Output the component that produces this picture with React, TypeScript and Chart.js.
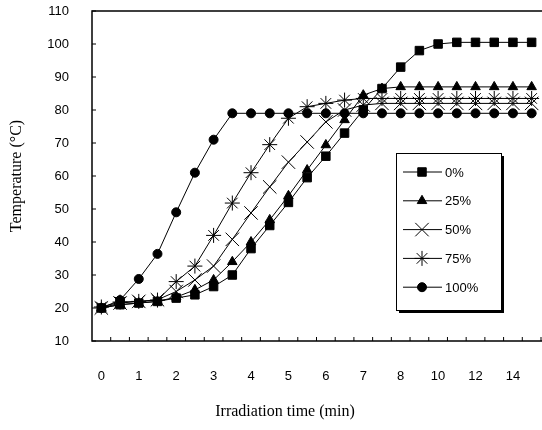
import React, { useEffect, useRef } from "react";
import { Chart, registerables } from "chart.js";
import { drawPoint } from "chart.js/helpers";

Chart.register(...registerables);

const times = [0, 0.5, 1, 1.5, 2, 2.5, 3, 3.5, 4, 4.5, 5, 5.5, 6, 6.5, 7, 7.5, 8, 9, 10, 11, 12, 13, 14, 15];

const seriesLabels = ["0%", "25%", "50%", "75%", "100%"];

const temp0 = [20, 21, 21.5, 22, 23, 24, 26.5, 30, 38, 45, 52, 59.5, 66, 73, 80, 86.5, 93, 98, 100, 100.5, 100.5, 100.5, 100.5, 100.5];
const temp25 = [20, 21, 21.5, 22, 23.3, 25.5, 28.5, 34, 40, 46.7, 54, 61.8, 69.4, 77, 84.5, 86.5, 87, 87, 87, 87, 87, 87, 87, 87];
const temp50 = [20, 21.5, 22, 22.5, 25, 28.5, 32.7, 40.8, 48.8, 56.7, 64.2, 70.3, 76.4, 80, 81.5, 82, 82, 82, 82, 82, 82, 82, 82, 82];
const temp75 = [20.3, 21.8, 22, 22.4, 28, 32.7, 42, 51.8, 61, 69.5, 77.5, 81, 82, 83, 83.5, 83.5, 83.5, 83.5, 83.5, 83.5, 83.5, 83.5, 83.5, 83.5];
const temp100 = [20, 22.4, 28.8, 36.4, 49, 61, 71, 79, 79, 79, 79, 79, 79, 79, 79, 79, 79, 79, 79, 79, 79, 79, 79, 79];

const yTicks = [10, 20, 30, 40, 50, 60, 70, 80, 90, 100, 110];

const xTitle = "Irradiation time (min)";
const yTitle = "Temperature (°C)";

const pointStyles = ["rect", "triangle", "crossRot", "star", "circle"];
const pointRadii = [6, 5.5, 9.5, 7.5, 4.5];

const tickFont = { family: "'Liberation Sans', Arial, sans-serif", size: 13 };

export default function App() {
  const canvasRef = useRef<HTMLCanvasElement | null>(null);

  useEffect(() => {
    document.body.style.margin = "0";
    const canvas = canvasRef.current;
    if (!canvas) return;

    const allSeries = [temp0, temp25, temp50, temp75, temp100];

    const framePlugin = {
      id: "frame",
      afterDraw(chart: any) {
        const { ctx, chartArea } = chart;
        const { left, top, bottom } = chartArea;
        const W = chart.width;
        const xs = chart.scales.x;
        const ys = chart.scales.y;
        ctx.save();
        ctx.strokeStyle = "#000";
        ctx.lineWidth = 1.5;
        ctx.beginPath();
        ctx.moveTo(W, top);
        ctx.lineTo(left, top);
        ctx.lineTo(left, bottom);
        ctx.lineTo(W, bottom);
        ctx.stroke();
        ctx.lineWidth = 1;
        ctx.beginPath();
        for (const v of yTicks) {
          const py = ys.getPixelForValue(v);
          ctx.moveTo(left, py);
          ctx.lineTo(left + 4, py);
        }
        const w = xs.getPixelForValue(1) - xs.getPixelForValue(0);
        for (let k = 1; k <= times.length; k++) {
          const px = xs.getPixelForValue(k) - w / 2;
          if (px > W) break;
          ctx.moveTo(px, bottom);
          ctx.lineTo(px, bottom - 4);
        }
        ctx.stroke();

        ctx.fillStyle = "#000";
        ctx.font = "16px 'Liberation Serif', 'Times New Roman', serif";
        ctx.textAlign = "center";
        ctx.textBaseline = "middle";
        ctx.fillText(xTitle, 285, 412);
        ctx.save();
        ctx.translate(17, (top + bottom) / 2);
        ctx.rotate(-Math.PI / 2);
        ctx.fillText(yTitle, 0, 0);
        ctx.restore();

        const bx = 396, by = 153, bw = 105, bh = 157;
        ctx.fillStyle = "#000";
        ctx.fillRect(bx + 3, by + 3, bw, bh);
        ctx.fillStyle = "#fff";
        ctx.fillRect(bx, by, bw, bh);
        ctx.strokeStyle = "#000";
        ctx.lineWidth = 1;
        ctx.strokeRect(bx + 0.5, by + 0.5, bw, bh);
        chart.data.datasets.forEach((ds: any, i: number) => {
          const ly = by + 19 + i * 28.8;
          ctx.beginPath();
          ctx.moveTo(bx + 7, ly);
          ctx.lineTo(bx + 46, ly);
          ctx.strokeStyle = "#000";
          ctx.lineWidth = 1;
          ctx.stroke();
          ctx.fillStyle = "#000";
          drawPoint(ctx, { pointStyle: ds.pointStyle, radius: ds.pointRadius, rotation: 0, borderWidth: 1 } as any, bx + 26, ly);
          ctx.fillStyle = "#000";
          ctx.font = "13px 'Liberation Sans', Arial, sans-serif";
          ctx.textAlign = "left";
          ctx.textBaseline = "middle";
          ctx.fillText(ds.label, bx + 49, ly + 1);
        });
        ctx.restore();
      },
    };

    const chart = new Chart(canvas, {
      type: "line",
      data: {
        labels: times.map(String),
        datasets: allSeries.map((vals, i) => ({
          label: seriesLabels[i],
          data: vals,
          borderColor: "#000",
          backgroundColor: "#000",
          borderWidth: 1,
          pointStyle: pointStyles[i] as any,
          pointRadius: pointRadii[i],
          pointBackgroundColor: "#000",
          pointBorderColor: "#000",
          pointBorderWidth: 1,
          tension: 0,
          fill: false,
          clip: false as any,
        })),
      },
      options: {
        responsive: false,
        animation: false,
        events: [],
        layout: { autoPadding: false, padding: { top: 11, right: 1, left: 0, bottom: 0 } },
        plugins: {
          legend: { display: false },
          tooltip: { enabled: false },
        },
        scales: {
          x: {
            type: "category",
            offset: true,
            grid: { display: false, drawTicks: false },
            border: { display: false },
            ticks: {
              autoSkip: false,
              maxRotation: 0,
              minRotation: 0,
              padding: 28,
              color: "#000",
              font: tickFont,
              callback: (_v: any, i: number) => (i % 2 === 0 ? String(times[i]) : ""),
            },
            afterFit: (scale: any) => {
              scale.height = 89;
              scale.paddingLeft = 0;
              scale.paddingRight = 0;
            },
          },
          y: {
            min: 10,
            max: 110,
            grid: { display: false, drawTicks: false },
            border: { display: false },
            afterBuildTicks: (scale: any) => {
              scale.ticks = yTicks.map((v) => ({ value: v }));
            },
            ticks: {
              padding: 23,
              color: "#000",
              font: tickFont,
            },
            afterFit: (scale: any) => {
              scale.width = 92;
              scale.paddingTop = 0;
              scale.paddingBottom = 0;
            },
          },
        },
      },
      plugins: [framePlugin],
    });

    return () => chart.destroy();
  }, []);

  return (
    <div style={{ width: 542, height: 430, background: "#fff" }}>
      <canvas ref={canvasRef} width={542} height={430} />
    </div>
  );
}
